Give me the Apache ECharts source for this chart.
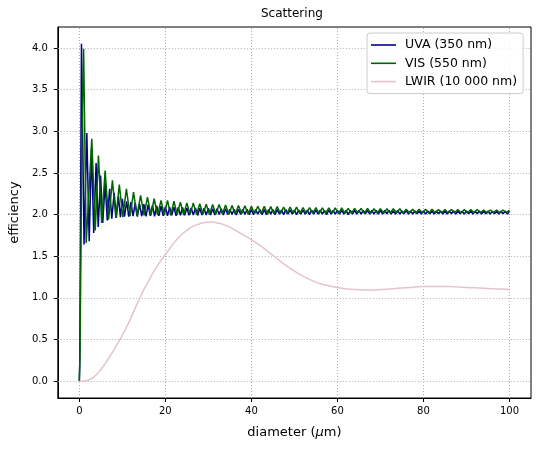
<!DOCTYPE html>
<html>
<head>
<meta charset="utf-8">
<script src="https://cdn.jsdelivr.net/npm/echarts@6/dist/echarts.min.js"></script>
<style>
  html, body { margin: 0; padding: 0; background: #fff; }
  #chart { width: 540px; height: 449px; }
</style>
</head>
<body>
<div id="chart"></div>
<script>
'use strict';

// tick positions
const xTicks = [0, 20, 40, 60, 80, 100];
const yTicks = [0, 0.5, 1, 1.5, 2, 2.5, 3, 3.5, 4];

// UVA (350 nm): first ripples read point by point [diameter, efficiency]
const uvaHead = [
  [0, 0], [0.1, 0.2], [0.25, 1.6], [0.5, 4.05], [1.1, 1.64], [1.75, 2.98],
  [2.3, 1.68], [2.85, 2.8], [3.35, 1.78], [3.9, 2.62], [4.4, 1.85], [4.95, 2.47],
  [5.45, 1.9], [6.0, 2.38], [6.5, 1.93], [7.05, 2.31], [7.55, 1.95], [8.1, 2.26],
  [8.6, 1.96], [9.1, 2.22], [9.55, 1.97], [10.0, 2.19]
];
// then trough / peak values every 0.5 um from 10.5 to 100
const uvaTailStart = 10.5;
const uvaTailStep = 0.5;
const uvaTail = [
  1.975, 2.16, 1.975, 2.15, 1.98, 2.14, 1.975, 2.13, 1.98, 2.125,
  1.98, 2.12, 1.985, 2.11, 1.98, 2.105, 1.985, 2.1, 1.985, 2.095,
  1.985, 2.09, 1.99, 2.09, 1.985, 2.085, 1.99, 2.085, 1.99, 2.08,
  1.99, 2.08, 1.995, 2.08, 1.99, 2.075, 1.995, 2.075, 1.995, 2.075,
  1.995, 2.07, 1.995, 2.07, 2.0, 2.07, 1.995, 2.07, 2.0, 2.065,
  2.0, 2.065, 1.995, 2.065, 2.0, 2.065, 2.0, 2.065, 2.0, 2.06,
  2.0, 2.06, 2.005, 2.06, 2.0, 2.06, 2.0, 2.06, 2.005, 2.06,
  2.0, 2.06, 2.005, 2.055, 2.0, 2.06, 2.005, 2.055, 2.005, 2.055,
  2.0, 2.055, 2.005, 2.055, 2.005, 2.055, 2.0, 2.055, 2.005, 2.055,
  2.005, 2.055, 2.005, 2.05, 2.0, 2.055, 2.005, 2.05, 2.005, 2.05,
  2.005, 2.05, 2.005, 2.05, 2.0, 2.05, 2.005, 2.05, 2.005, 2.05,
  2.005, 2.05, 2.01, 2.05, 2.005, 2.05, 2.005, 2.05, 2.005, 2.05,
  2.005, 2.05, 2.01, 2.05, 2.005, 2.045, 2.005, 2.05, 2.005, 2.045,
  2.01, 2.05, 2.005, 2.045, 2.005, 2.045, 2.01, 2.045, 2.005, 2.045,
  2.005, 2.045, 2.01, 2.045, 2.005, 2.045, 2.01, 2.045, 2.005, 2.045,
  2.005, 2.045, 2.01, 2.045, 2.005, 2.045, 2.01, 2.04, 2.005, 2.045,
  2.01, 2.045, 2.005, 2.04, 2.01, 2.045, 2.005, 2.04, 2.01, 2.04,
  2.005, 2.04, 2.01, 2.04, 2.005, 2.04, 2.01, 2.04, 2.005, 2.04
];

// VIS (550 nm)
const visHead = [
  [0, 0], [0.15, 0.3], [0.35, 1.4], [0.6, 2.9], [1.0, 3.99], [1.6, 1.66],
  [2.9, 2.91], [3.7, 1.81], [4.45, 2.71], [5.2, 1.9], [6.0, 2.53], [6.8, 1.94],
  [7.7, 2.41], [8.5, 1.96], [9.3, 2.36], [10.1, 1.97], [10.95, 2.31], [11.8, 1.98],
  [12.6, 2.27], [13.4, 1.985], [14.25, 2.23], [15.05, 1.99], [15.85, 2.21],
  [16.65, 1.99], [17.4, 2.19], [18.2, 1.995], [19.0, 2.17]
];
// trough / peak values every 0.75 um from 19.75 to 100
const visTailStart = 19.75;
const visTailStep = 0.75;
const visTail = [
  1.995, 2.17, 1.99, 2.16, 2.0, 2.15, 1.995, 2.14, 2.0, 2.14,
  2.0, 2.13, 2.005, 2.125, 2.0, 2.12, 2.005, 2.12, 2.005, 2.115,
  2.0, 2.11, 2.005, 2.11, 2.01, 2.105, 2.005, 2.1, 2.01, 2.1,
  2.01, 2.1, 2.005, 2.095, 2.01, 2.095, 2.01, 2.09, 2.01, 2.09,
  2.015, 2.09, 2.01, 2.085, 2.01, 2.085, 2.015, 2.085, 2.01, 2.08,
  2.015, 2.08, 2.015, 2.08, 2.01, 2.08, 2.015, 2.075, 2.015, 2.075,
  2.02, 2.075, 2.015, 2.075, 2.015, 2.07, 2.02, 2.07, 2.015, 2.07,
  2.02, 2.07, 2.02, 2.07, 2.015, 2.065, 2.02, 2.065, 2.02, 2.065,
  2.02, 2.065, 2.015, 2.065, 2.02, 2.06, 2.02, 2.06, 2.02, 2.06,
  2.025, 2.06, 2.02, 2.06, 2.02, 2.06, 2.025, 2.06, 2.02, 2.055,
  2.02, 2.055, 2.025, 2.055, 2.02, 2.055, 2.025, 2.05
];

// LWIR (10 000 nm), smooth
const lwirDiameter = [
  0, 1, 2, 3, 4, 5, 6, 7, 8, 9, 10, 11, 12, 13, 14, 15, 16, 17, 18, 19,
  20, 21, 22, 23, 24, 25, 26, 27, 28, 29, 30, 31, 32, 33, 34, 35, 36, 37, 38, 39,
  40, 42, 44, 46, 48, 50, 52, 54, 56, 58, 60, 62, 64, 66, 68, 70, 72, 74, 76, 78,
  80, 82, 84, 86, 88, 90, 92, 94, 96, 98, 100
];
const lwirEfficiency = [
  0, 0.0, 0.01, 0.035, 0.08, 0.14, 0.21, 0.29, 0.37, 0.46, 0.55, 0.65, 0.76, 0.88, 0.99, 1.1, 1.19, 1.29, 1.37, 1.45,
  1.52, 1.59, 1.66, 1.72, 1.77, 1.81, 1.85, 1.87, 1.89, 1.905, 1.91, 1.91, 1.9, 1.89, 1.87, 1.85, 1.82, 1.79, 1.76, 1.73,
  1.7, 1.63, 1.55, 1.47, 1.39, 1.32, 1.26, 1.21, 1.17, 1.145, 1.125, 1.11, 1.1, 1.095, 1.095, 1.1, 1.105, 1.115, 1.12, 1.13,
  1.135, 1.135, 1.135, 1.135, 1.13, 1.125, 1.12, 1.115, 1.11, 1.105, 1.1
];

const withTail = (head, start, step, tail) =>
  head.concat(tail.map((v, i) => [start + i * step, v]));

const uvaData = withTail(uvaHead, uvaTailStart, uvaTailStep, uvaTail);
const visData = withTail(visHead, visTailStart, visTailStep, visTail);
const lwirData = lwirDiameter.map((d, i) => [d, lwirEfficiency[i]]);

const FONT = 'DejaVu Sans';

const line = (name, data, color, smooth) => ({
  name,
  type: 'line',
  data,
  showSymbol: false,
  symbol: 'none',
  smooth: smooth || false,
  lineStyle: { color, width: 1.5 },
  itemStyle: { color },
  silent: true,
  z: 3,
  animation: false
});

// dotted grid on the tick positions only
const gridSeries = {
  type: 'line',
  data: [],
  silent: true,
  z: 1,
  markLine: {
    silent: true,
    z: 1,
    symbol: 'none',
    animation: false,
    label: { show: false },
    emphasis: { disabled: true },
    lineStyle: { color: '#b0b0b0', type: [1, 2], width: 1 },
    data: xTicks.map(v => ({ xAxis: v })).concat(yTicks.map(v => ({ yAxis: v })))
  }
};

const chart = echarts.init(document.getElementById('chart'), null, { renderer: 'canvas' });

chart.setOption({
  backgroundColor: '#fff',
  animation: false,
  title: {
    text: 'Scattering',
    left: 261,
    top: 8,
    padding: 0,
    textStyle: { fontFamily: FONT, fontSize: 12, fontWeight: 'normal', color: '#000' }
  },
  legend: {
    orient: 'vertical',
    left: 367,
    top: 33,
    icon: 'rect',
    itemWidth: 25,
    itemHeight: 1.6,
    itemGap: 4.3,
    padding: [5, 6, 5, 4],
    backgroundColor: 'rgba(255,255,255,0.85)',
    borderColor: '#cccccc',
    borderWidth: 1,
    borderRadius: 3,
    textStyle: { fontFamily: FONT, fontSize: 12.5, color: '#000', lineHeight: 14, padding: [0, 0, 0, 4] },
    data: ['UVA (350 nm)', 'VIS (550 nm)', 'LWIR (10 000 nm)']
  },
  grid: {
    left: 54, right: 9, top: 27, bottom: 51,
    show: true, borderColor: '#000', borderWidth: 1, backgroundColor: 'transparent'
  },
  xAxis: {
    type: 'value',
    min: -5,
    max: 105,
    name: 'diameter ({i|μ}m)',
    nameLocation: 'middle',
    nameGap: 28,
    nameTextStyle: {
      fontFamily: FONT, fontSize: 13, color: '#000',
      rich: { i: { fontFamily: FONT, fontSize: 13, fontStyle: 'italic', color: '#000' } }
    },
    axisLine: { show: true, onZero: false, lineStyle: { color: '#000', width: 1 } },
    axisTick: { show: true, length: 4, inside: false, customValues: xTicks, lineStyle: { color: '#000' } },
    axisLabel: { customValues: xTicks, margin: 8, fontFamily: FONT, fontSize: 10, color: '#000' },
    splitLine: { show: false }
  },
  yAxis: {
    type: 'value',
    min: -0.2025,
    max: 4.2525,
    name: 'efficiency',
    nameLocation: 'middle',
    nameGap: 27,
    nameTextStyle: { fontFamily: FONT, fontSize: 13, color: '#000' },
    axisLine: { show: true, onZero: false, lineStyle: { color: '#000', width: 1 } },
    axisTick: { show: true, length: 4, inside: false, customValues: yTicks, lineStyle: { color: '#000' } },
    axisLabel: {
      customValues: yTicks, margin: 10, fontFamily: FONT, fontSize: 10, color: '#000',
      formatter: v => v.toFixed(1)
    },
    splitLine: { show: false }
  },
  series: [
    gridSeries,
    line('UVA (350 nm)', uvaData, '#00008b'),
    line('VIS (550 nm)', visData, '#006400'),
    line('LWIR (10 000 nm)', lwirData, '#e6c3cc', 0.3)
  ]
});
</script>
</body>
</html>
